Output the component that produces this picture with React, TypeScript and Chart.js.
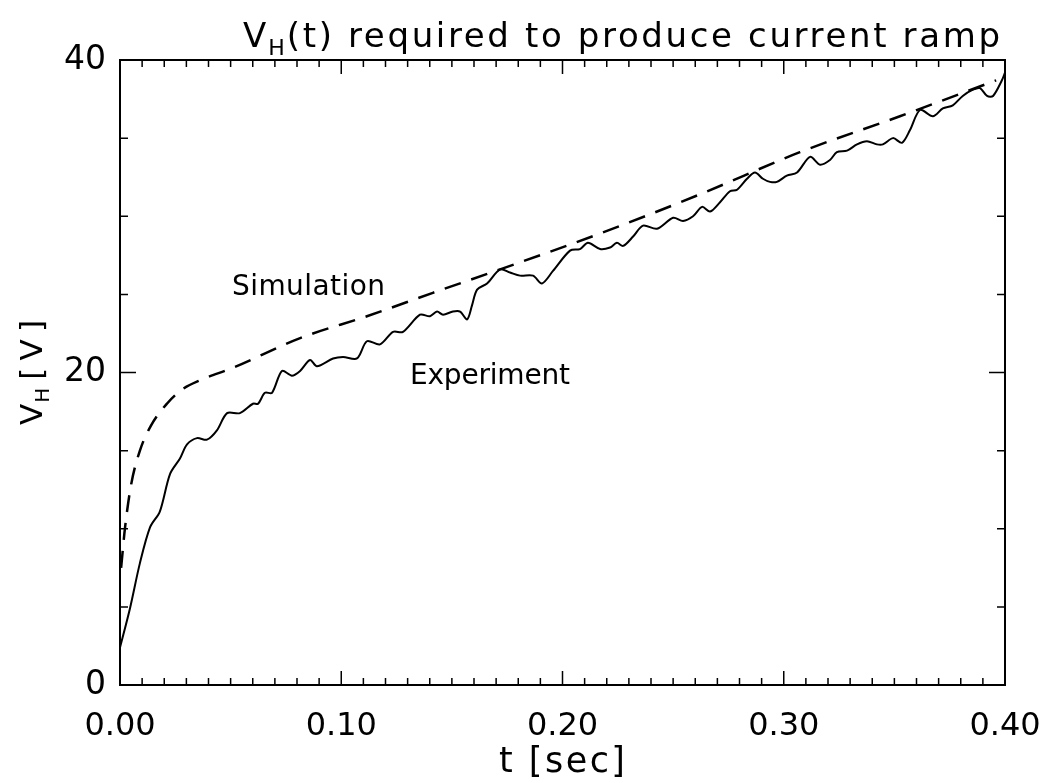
import React, { useEffect, useRef } from "react";
import { Chart, registerables } from "chart.js";

Chart.register(...registerables);

// Simulation (dashed) curve
const tSim = [0.0005, 0.0023, 0.005, 0.009, 0.014, 0.0212, 0.028, 0.0362, 0.051, 0.0814, 0.1116, 0.1414, 0.1718, 0.217, 0.2621, 0.3073, 0.3525, 0.396];
const vSim = [7.5, 10.1, 12.8, 15.0, 16.6, 18.0, 18.9, 19.5, 20.3, 22.2, 23.6, 25.1, 26.6, 28.9, 31.4, 34.1, 36.4, 38.7];

// Experiment (solid) curve
const tExp = [0, 0.0045, 0.009, 0.0136, 0.018, 0.0226, 0.0271, 0.0303, 0.0348, 0.0393, 0.0438, 0.0484, 0.0542, 0.0601, 0.0624, 0.0655, 0.0687, 0.0732, 0.0777, 0.0814, 0.0859, 0.089, 0.0963, 0.1008, 0.1071, 0.1116, 0.1175, 0.1234, 0.1279, 0.1356, 0.1401, 0.1433, 0.146, 0.1505, 0.1537, 0.1569, 0.1591, 0.1614, 0.1659, 0.1718, 0.1763, 0.1808, 0.1867, 0.1907, 0.1957, 0.2034, 0.2079, 0.2115, 0.217, 0.2215, 0.2246, 0.2274, 0.2319, 0.2364, 0.2427, 0.25, 0.2545, 0.259, 0.2631, 0.2667, 0.2712, 0.2757, 0.2789, 0.2834, 0.287, 0.2906, 0.2938, 0.2969, 0.3014, 0.306, 0.3119, 0.3164, 0.3209, 0.324, 0.3286, 0.3331, 0.3376, 0.3421, 0.3448, 0.3494, 0.3534, 0.357, 0.3616, 0.3674, 0.3719, 0.3764, 0.3809, 0.3855, 0.3887, 0.3919, 0.3946, 0.3986, 0.4];
const vExp = [2.4, 4.9, 7.8, 10.1, 11.1, 13.5, 14.5, 15.4, 15.8, 15.7, 16.3, 17.4, 17.4, 18.0, 18.0, 18.7, 18.7, 20.1, 19.8, 20.1, 20.8, 20.4, 20.9, 21.0, 20.9, 22.0, 21.8, 22.6, 22.6, 23.7, 23.6, 23.9, 23.7, 23.9, 23.9, 23.4, 24.3, 25.3, 25.7, 26.6, 26.4, 26.2, 26.2, 25.7, 26.5, 27.8, 27.9, 28.3, 27.9, 28.0, 28.3, 28.1, 28.7, 29.4, 29.2, 29.9, 29.7, 30.0, 30.6, 30.3, 30.9, 31.6, 31.7, 32.4, 32.8, 32.4, 32.2, 32.2, 32.6, 32.8, 33.8, 33.3, 33.6, 34.1, 34.2, 34.6, 34.8, 34.6, 34.6, 35.0, 34.7, 35.5, 36.8, 36.4, 36.9, 37.1, 37.7, 38.1, 38.2, 37.7, 37.7, 38.7, 39.2];

const xMajorStep = 0.1;
const xMinorStep = 0.01;
const yMajorStep = 20;
const yMinorStep = 5;

const FONT = '"DejaVu Sans", "Liberation Sans", sans-serif';

function drawSpaced(ctx: CanvasRenderingContext2D, text: string, x: number, y: number, target: number) {
  (ctx as any).letterSpacing = "0px";
  const w = ctx.measureText(text).width;
  const n = Math.max(1, text.length - 1);
  const ls = (target - w) / n;
  (ctx as any).letterSpacing = ls + "px";
  ctx.fillText(text, x, y);
  (ctx as any).letterSpacing = "0px";
  return target + ls;
}

const framePlugin = {
  id: "frameTicks",
  afterDatasetsDraw(chart: any) {
    const { ctx, chartArea, scales } = chart;
    const { left, right, top, bottom } = chartArea;
    const xs = scales.x;
    const ys = scales.y;
    ctx.save();
    ctx.strokeStyle = "#000";
    ctx.lineWidth = 2;
    ctx.strokeRect(left, top, right - left, bottom - top);
    ctx.lineWidth = 1.5;
    const nx = Math.round((xs.max - xs.min) / xMinorStep);
    for (let i = 0; i <= nx; i++) {
      const v = xs.min + i * xMinorStep;
      const px = xs.getPixelForValue(v);
      const major = Math.abs(v / xMajorStep - Math.round(v / xMajorStep)) < 1e-6;
      const len = major ? 14 : 7;
      ctx.beginPath();
      ctx.moveTo(px, bottom);
      ctx.lineTo(px, bottom - len);
      ctx.moveTo(px, top);
      ctx.lineTo(px, top + len);
      ctx.stroke();
    }
    const ny = Math.round((ys.max - ys.min) / yMinorStep);
    for (let j = 0; j <= ny; j++) {
      const v = ys.min + j * yMinorStep;
      const py = ys.getPixelForValue(v);
      const major = v % yMajorStep === 0;
      const len = major ? 16 : 8;
      ctx.beginPath();
      ctx.moveTo(left, py);
      ctx.lineTo(left + len, py);
      ctx.moveTo(right, py);
      ctx.lineTo(right - len, py);
      ctx.stroke();
    }
    ctx.restore();
  },
  afterDraw(chart: any) {
    const { ctx } = chart;
    ctx.save();
    ctx.fillStyle = "#000";
    ctx.textBaseline = "alphabetic";
    ctx.textAlign = "left";

    // Title: V_H(t) required to produce current ramp
    ctx.font = `34px ${FONT}`;
    let x = 243;
    const ty = 47;
    ctx.fillText("V", x, ty);
    x += ctx.measureText("V").width + 2;
    ctx.font = `22px ${FONT}`;
    ctx.fillText("H", x, ty + 8);
    x += ctx.measureText("H").width + 2;
    ctx.font = `34px ${FONT}`;
    drawSpaced(ctx, "(t) required to produce current ramp", x, ty, 1000 - x);

    // X axis title
    ctx.font = `35px ${FONT}`;
    drawSpaced(ctx, "t [sec]", 499, 772, 126);

    // Y axis title (rotated)
    ctx.save();
    ctx.translate(42, 425);
    ctx.rotate(-Math.PI / 2);
    ctx.font = `31px ${FONT}`;
    let yx = 0;
    ctx.fillText("V", yx, 0);
    yx += ctx.measureText("V").width + 1;
    ctx.font = `20px ${FONT}`;
    ctx.fillText("H", yx, 7);
    yx += ctx.measureText("H").width + 8;
    ctx.font = `31px ${FONT}`;
    drawSpaced(ctx, "[V]", yx, 0, 425 - 320 - yx);
    ctx.restore();

    // Annotations
    ctx.font = `28px ${FONT}`;
    drawSpaced(ctx, "Simulation", 232, 295, 153);
    drawSpaced(ctx, "Experiment", 410, 384, 160);
    ctx.restore();
  },
};

export default function App() {
  const ref = useRef<HTMLCanvasElement | null>(null);
  useEffect(() => {
    if (!ref.current) return;
    const simData = tSim.map((t, i) => ({ x: t, y: vSim[i] }));
    const expData = tExp.map((t, i) => ({ x: t, y: vExp[i] }));
    const chart = new Chart(ref.current, {
      type: "line",
      data: {
        datasets: [
          {
            label: "Simulation",
            data: simData,
            borderColor: "#000",
            borderWidth: 2.5,
            borderDash: [17, 11],
            pointRadius: 0,
            cubicInterpolationMode: "monotone",
            fill: false,
          },
          {
            label: "Experiment",
            data: expData,
            borderColor: "#000",
            borderWidth: 2,
            pointRadius: 0,
            tension: 0.3,
            fill: false,
          },
        ],
      },
      options: {
        responsive: false,
        animation: false,
        maintainAspectRatio: false,
        layout: { padding: { left: 0, top: 60, right: 41, bottom: 0 } },
        plugins: {
          legend: { display: false },
          title: { display: false },
          tooltip: { enabled: false },
        },
        scales: {
          x: {
            type: "linear",
            min: 0,
            max: 0.4,
            grid: { display: false, drawTicks: false },
            border: { display: false },
            ticks: {
              stepSize: xMajorStep,
              padding: 22,
              color: "#000",
              maxRotation: 0,
              font: { family: FONT, size: 32 },
              callback: (v: any) => Number(v).toFixed(2),
            },
            afterFit: (s: any) => {
              s.height = 98;
              s.paddingLeft = 0;
              s.paddingRight = 0;
            },
          },
          y: {
            type: "linear",
            min: 0,
            max: 40,
            grid: { display: false, drawTicks: false },
            border: { display: false },
            ticks: {
              stepSize: yMajorStep,
              padding: 14,
              color: "#000",
              font: { family: FONT, size: 33 },
            },
            afterFit: (s: any) => {
              s.width = 120;
              s.paddingTop = 0;
              s.paddingBottom = 0;
            },
          },
        },
      },
      plugins: [framePlugin],
    });
    return () => chart.destroy();
  }, []);
  return (
    <div style={{ position: "fixed", left: 0, top: 0, width: 1046, height: 783, background: "#fff" }}>
      <canvas ref={ref} width={1046} height={783} style={{ display: "block" }} />
    </div>
  );
}
